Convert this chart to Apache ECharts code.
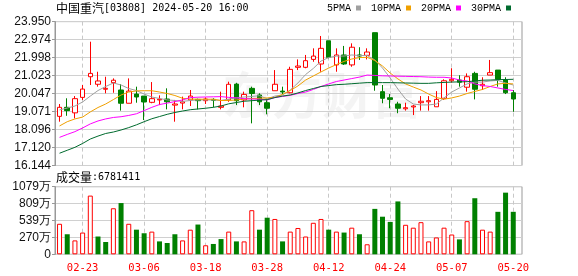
<!DOCTYPE html>
<html>
<head>
<meta charset="utf-8">
<script src="https://cdn.jsdelivr.net/npm/echarts/dist/echarts.min.js"></script>
<style>
html,body{margin:0;padding:0;background:#fff;}
#c{width:578px;height:276px;}
</style>
</head>
<body>
<div id="c"></div>
<script>
// ---- data ----
const stockTitle = '中国重汽';
const stockCode = '[03808] 2024-05-20 16:00';
const dates = ['02-20','02-21','02-22','02-23','02-26','02-27','02-28','02-29','03-01','03-04',
'03-05','03-06','03-07','03-08','03-11','03-12','03-13','03-14','03-15','03-18',
'03-19','03-20','03-21','03-22','03-25','03-26','03-27','03-28','04-02','04-03',
'04-05','04-08','04-09','04-10','04-11','04-12','04-15','04-16','04-17','04-18',
'04-19','04-22','04-23','04-24','04-25','04-26','04-29','04-30','05-02','05-03',
'05-06','05-07','05-08','05-09','05-10','05-13','05-14','05-16','05-17','05-20'];
const opens = [18.81,19.30,19.00,19.84,20.96,20.55,20.28,20.64,20.24,19.52,
20.02,19.91,19.57,19.70,19.75,19.42,19.53,19.70,19.73,19.66,
19.73,19.30,19.70,20.56,19.70,20.33,19.97,19.55,20.20,20.18,
20.09,21.47,21.47,21.90,21.65,22.91,21.60,22.14,21.60,22.14,
22.12,23.35,20.15,19.82,19.48,19.22,19.32,19.55,19.60,19.33,
19.79,20.74,20.78,20.39,21.14,20.47,21.05,21.32,20.78,20.09];
const closes = [19.30,19.12,19.77,20.29,21.14,20.73,20.33,20.77,19.52,20.18,
19.86,19.59,19.77,19.74,19.60,19.48,19.60,19.91,19.66,19.75,
19.68,19.37,20.55,19.66,20.00,20.05,19.60,19.25,20.55,20.13,
21.36,21.54,21.83,22.08,22.50,22.01,22.14,21.65,22.56,22.08,
22.30,20.51,19.79,19.73,19.25,19.28,19.37,19.63,19.66,19.73,
20.74,20.82,20.66,20.96,20.28,20.55,21.18,20.82,20.09,19.75];
const lows = [18.52,18.84,18.70,19.70,20.51,20.42,20.06,20.09,19.12,19.52,
19.55,18.61,19.52,19.42,19.19,18.52,19.19,19.37,19.19,19.48,
19.30,19.19,19.60,19.42,19.30,18.43,19.42,18.92,20.20,20.02,
20.06,21.32,21.42,21.77,21.23,21.96,21.23,21.60,21.50,21.87,
21.90,20.20,19.52,19.25,18.98,19.12,18.88,19.12,19.12,19.33,
19.70,20.64,20.42,20.15,19.73,20.24,21.05,20.42,20.02,19.06];
const highs = [19.48,19.79,19.91,20.51,22.86,21.23,20.96,20.87,20.56,20.87,
20.42,19.91,20.67,19.95,20.33,19.70,19.88,20.24,19.77,19.84,
19.79,20.15,20.69,20.63,20.15,20.42,20.06,19.70,21.32,20.42,
21.50,21.90,22.14,22.50,23.17,22.91,22.50,22.63,22.77,22.56,
22.50,23.35,20.51,20.02,19.60,19.55,19.43,19.91,19.91,20.18,
20.82,21.42,21.04,21.14,21.23,20.93,21.87,21.32,20.93,20.24];
const volumes = [4870000,3200000,2220000,3470000,9370000,2840000,1960000,7350000,8180000,4870000,
3930000,3360000,3620000,2060000,1800000,3200000,2220000,3930000,4750000,1440000,
1650000,2430000,3620000,2060000,2060000,7040000,3930000,5840000,5640000,2060000,
3620000,4200000,2840000,5030000,5640000,3930000,3620000,3470000,4250000,3200000,
1600000,7250000,6000000,5170000,8440000,4710000,4250000,5130000,2060000,2690000,
4250000,3160000,2380000,5290000,8950000,3930000,3620000,6780000,9840000,6781411];
const ma5 = [19.16,19.26,19.37,19.59,19.91,20.21,20.43,20.62,20.51,20.32,
20.21,20.02,19.86,19.78,19.70,19.67,19.62,19.67,19.70,19.70,
19.70,19.67,19.75,19.81,19.86,19.89,19.93,19.76,19.91,19.97,
20.24,20.62,21.08,21.41,21.81,22.00,22.08,22.08,22.14,22.11,
22.11,21.87,21.43,20.89,20.29,19.75,19.48,19.43,19.43,19.48,
19.81,20.13,20.35,20.57,20.67,20.67,20.73,20.76,20.62,20.51];
const ma10 = [18.29,18.52,18.67,18.77,19.05,19.29,19.48,19.72,19.97,20.13,
20.19,20.20,20.20,20.13,20.05,19.94,19.79,19.75,19.74,19.74,
19.74,19.67,19.67,19.70,19.75,19.78,19.79,19.81,19.84,20.00,
20.21,20.46,20.78,21.00,21.22,21.43,21.62,21.79,21.92,22.00,
22.01,21.84,21.54,21.16,20.84,20.57,20.40,20.24,20.02,19.83,
19.74,19.81,19.91,20.05,20.16,20.27,20.43,20.57,20.60,20.57];
const ma20 = [17.67,17.83,17.98,18.18,18.40,18.56,18.67,18.75,18.79,18.86,
18.95,19.12,19.30,19.45,19.53,19.61,19.70,19.83,19.85,19.86,
19.87,19.88,19.84,19.81,19.77,19.75,19.74,19.70,19.83,19.89,
19.95,20.05,20.13,20.27,20.43,20.57,20.70,20.78,20.86,20.94,
21.05,21.03,21.01,21.00,20.99,20.98,20.97,20.96,20.94,20.93,
20.93,20.89,20.78,20.73,20.57,20.48,20.43,20.35,20.27,20.21];
const ma30 = [16.81,16.97,17.13,17.34,17.58,17.74,17.88,17.96,18.07,18.20,
18.35,18.52,18.68,18.80,18.92,19.02,19.10,19.17,19.21,19.25,
19.30,19.37,19.49,19.56,19.63,19.66,19.69,19.72,19.83,19.91,
19.97,20.08,20.21,20.32,20.43,20.48,20.53,20.55,20.58,20.61,
20.64,20.64,20.64,20.64,20.63,20.62,20.61,20.60,20.60,20.63,
20.65,20.67,20.68,20.69,20.73,20.77,20.78,20.80,20.81,20.82];
const priceTicks = ['16.144','17.120','18.096','19.071','20.047','21.023','21.998','22.974','23.950'];
const volTicks = ['0','270万','539万','809万','1079万'];
const priceMin = 16.144, priceMax = 23.950;
const volMax = 10790000;
const maNames = ['5PMA','10PMA','20PMA','30PMA'];

// ---- chart ----
const UP = '#ff0000', DOWN = '#008000';
const maColors = ['#a0a0a0','#f0a000','#ff00ff','#006b2e'];
const maData = [ma5, ma10, ma20, ma30];

const chart = echarts.init(document.getElementById('c'), null, {renderer:'canvas', width:578, height:276});
const DL = 55.7, DW = 461.4;
const FL = 55, FW = 467;
const PT = 21.6, PH = 143.9;
const VT = 186.7, VH = 67.6;
const markEvery = (i) => i % 8 === 3;
const dashedSplit = {show:true, alignWithLabel:true, interval:markEvery, lineStyle:{color:'#c8c8c8', width:1, type:[4,3]}};
const labelFont = {fontFamily:'Liberation Sans', fontSize:12, color:'#111'};
const richText = {
  c:{fontFamily:'Noto Sans CJK SC', fontSize:12, fontWeight:'normal', color:'#000'},
  a:{fontFamily:'DejaVu Sans Mono', fontSize:10, fontWeight:'normal', color:'#000'}
};

const candleData = opens.map((o,i)=>[o, closes[i], lows[i], highs[i]]);
const volData = volumes.map((v,i)=>{
  const up = i === 0 ? closes[i] >= opens[i] : closes[i] >= closes[i-1];
  return {value:v, itemStyle: up ? {color:'#ffffff', borderColor:UP, borderWidth:1} : {color:DOWN, borderColor:DOWN, borderWidth:0}};
});

const series = [{
  type:'candlestick', xAxisIndex:0, yAxisIndex:0, data:candleData, barWidth:5, z:2,
  itemStyle:{color:'#ffffff', color0:DOWN, borderColor:UP, borderColor0:DOWN, borderWidth:1},
  silent:true
}];
maNames.forEach((n,k)=>{
  series.push({type:'line', name:n, xAxisIndex:0, yAxisIndex:0, data:maData[k], symbol:'none', showSymbol:false,
    color:maColors[k], lineStyle:{width:1, color:maColors[k]}, itemStyle:{color:maColors[k]}, z:4, silent:true, animation:false});
});
series.push({type:'bar', xAxisIndex:2, yAxisIndex:2, data:volData, barWidth:5, silent:true});

chart.setOption({
  animation:false,
  backgroundColor:'#ffffff',
  title:[
    {text:'{c|'+stockTitle+'}{a|'+stockCode+'}', left:56, top:2, padding:0,
     textStyle:{fontWeight:'normal', rich:richText}},
    {text:'{c|成交量}{a|:'+volumes[volumes.length-1]+'}', left:56, top:171, padding:0,
     textStyle:{fontWeight:'normal', rich:richText}}
  ],
  legend:{data:maNames, right:67, top:3, padding:0, align:'right', icon:'rect', itemWidth:5, itemHeight:5, itemGap:10,
    selectedMode:false, textStyle:{fontFamily:'Liberation Mono', fontSize:10, color:'#000'}},
  graphic:[{type:'text', left:222, top:70, z:0, silent:true,
    style:{text:'东方财富', font:'bold 50px "Noto Sans CJK SC"', fill:'rgba(0,0,0,0.045)'}}],
  grid:[
    {left:DL, top:PT, width:DW, height:PH},
    {left:FL, top:PT, width:FW, height:PH, show:true, borderColor:'#999', borderWidth:1},
    {left:DL, top:VT, width:DW, height:VH},
    {left:FL, top:VT, width:FW, height:VH, show:true, borderColor:'#999', borderWidth:1}
  ],
  xAxis:[
    {gridIndex:0, type:'category', data:dates, boundaryGap:true, axisLine:{show:false}, axisTick:{show:false}, axisLabel:{show:false}, splitLine:dashedSplit},
    {gridIndex:1, type:'value', min:0, max:1, show:false},
    {gridIndex:2, type:'category', data:dates, boundaryGap:true, axisLine:{show:false}, axisTick:{show:false},
      axisLabel:{show:true, interval:markEvery, color:'#ff0000', fontFamily:'DejaVu Sans Mono', fontSize:10.5, margin:8}, splitLine:dashedSplit},
    {gridIndex:3, type:'value', min:0, max:1, show:false}
  ],
  yAxis:[
    {gridIndex:0, type:'value', min:priceMin, max:priceMax, show:false, splitLine:{show:false}},
    {gridIndex:1, type:'value', min:0, max:priceTicks.length-1, interval:1,
      axisLine:{show:true, lineStyle:{color:'#999'}}, axisTick:{show:true, length:3, lineStyle:{color:'#999'}},
      axisLabel:Object.assign({margin:4, formatter:(v)=>priceTicks[Math.round(v)]}, labelFont),
      splitLine:{show:true, lineStyle:{color:'#d0d0d0', width:1}}},
    {gridIndex:2, type:'value', min:0, max:volMax, show:false, splitLine:{show:false}},
    {gridIndex:3, type:'value', min:0, max:volTicks.length-1, interval:1,
      axisLine:{show:true, lineStyle:{color:'#999'}}, axisTick:{show:true, length:3, lineStyle:{color:'#999'}},
      axisLabel:Object.assign({margin:4, formatter:(v)=>volTicks[Math.round(v)]}, labelFont),
      splitLine:{show:true, lineStyle:{color:'#d0d0d0', width:1}}}
  ],
  series:series
});
</script>
</body>
</html>
